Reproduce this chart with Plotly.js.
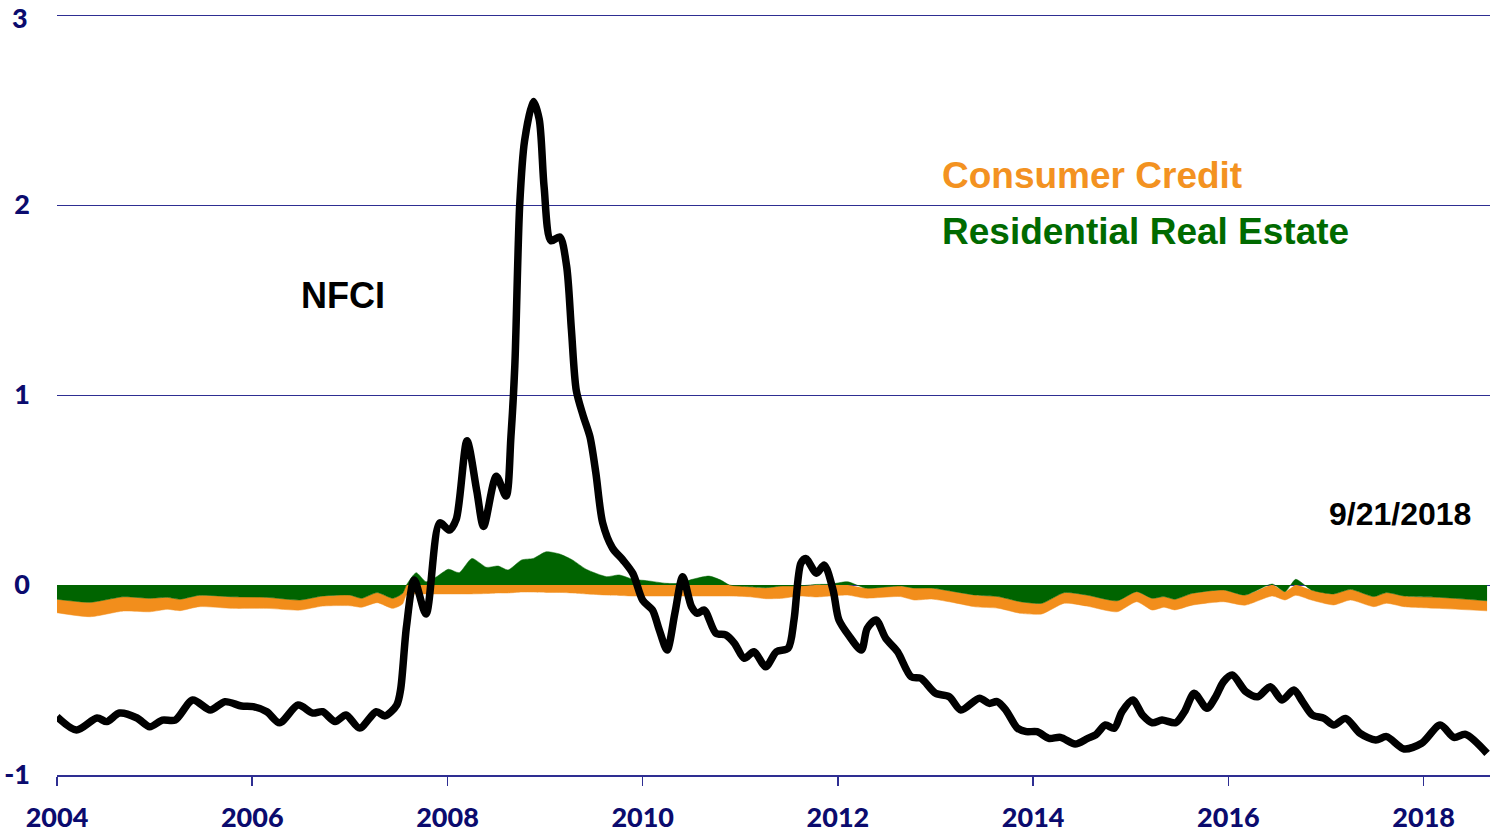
<!DOCTYPE html>
<html><head><meta charset="utf-8">
<script src="https://cdn.plot.ly/plotly-3.0.1.min.js"></script>
<style>html,body{margin:0;padding:0;background:#fff}#chart{width:1493px;height:832px}</style>
</head><body><div id="chart"></div>
<script>
// NFCI weekly index (decimal years)
const nfciDates = [2004.00,2004.20,2004.41,2004.51,2004.64,2004.82,2004.95,2005.08,2005.21,2005.39,2005.57,2005.72,2005.89,2006.01,2006.15,2006.28,2006.47,2006.62,2006.72,2006.85,2006.96,2007.10,2007.27,2007.36,2007.48,2007.52,2007.58,2007.66,2007.78,2007.92,2008.02,2008.09,2008.20,2008.30,2008.37,2008.50,2008.60,2008.65,2008.69,2008.74,2008.79,2008.88,2008.94,2008.99,2009.06,2009.15,2009.22,2009.27,2009.32,2009.39,2009.46,2009.52,2009.59,2009.69,2009.80,2009.90,2010.00,2010.10,2010.17,2010.25,2010.33,2010.41,2010.50,2010.56,2010.63,2010.75,2010.85,2010.94,2011.04,2011.14,2011.26,2011.37,2011.49,2011.55,2011.62,2011.67,2011.78,2011.86,2011.95,2012.01,2012.12,2012.24,2012.30,2012.39,2012.49,2012.61,2012.75,2012.85,2013.00,2013.14,2013.26,2013.45,2013.55,2013.63,2013.72,2013.84,2013.93,2014.04,2014.16,2014.28,2014.43,2014.56,2014.64,2014.74,2014.83,2014.91,2015.02,2015.12,2015.22,2015.32,2015.46,2015.55,2015.65,2015.78,2015.87,2015.95,2016.04,2016.18,2016.30,2016.43,2016.55,2016.67,2016.76,2016.86,2016.98,2017.08,2017.20,2017.35,2017.51,2017.62,2017.80,2017.98,2018.17,2018.31,2018.43,2018.65];
const nfciValues = [-0.693,-0.763,-0.700,-0.719,-0.674,-0.700,-0.746,-0.711,-0.711,-0.605,-0.658,-0.614,-0.637,-0.640,-0.667,-0.725,-0.632,-0.674,-0.667,-0.719,-0.684,-0.753,-0.667,-0.689,-0.632,-0.55,-0.22,0.026,-0.153,0.327,0.289,0.346,0.759,0.496,0.308,0.572,0.468,0.779,1.154,2.0,2.338,2.545,2.451,2.095,1.812,1.832,1.681,1.342,1.023,0.891,0.779,0.59,0.327,0.195,0.13,0.06,-0.08,-0.132,-0.237,-0.342,-0.147,0.044,-0.114,-0.149,-0.132,-0.254,-0.263,-0.307,-0.386,-0.351,-0.43,-0.351,-0.333,-0.184,0.114,0.14,0.062,0.105,-0.026,-0.184,-0.272,-0.342,-0.228,-0.184,-0.281,-0.351,-0.483,-0.491,-0.57,-0.588,-0.658,-0.596,-0.623,-0.614,-0.658,-0.754,-0.772,-0.772,-0.807,-0.802,-0.837,-0.807,-0.789,-0.737,-0.754,-0.667,-0.605,-0.684,-0.725,-0.711,-0.725,-0.667,-0.57,-0.649,-0.588,-0.509,-0.474,-0.562,-0.588,-0.535,-0.605,-0.553,-0.614,-0.684,-0.702,-0.737,-0.702,-0.781,-0.816,-0.798,-0.863,-0.833,-0.737,-0.802,-0.786,-0.886];

// Contributions (decimal years)
const bandDates = [2004.00,2004.34,2004.68,2004.95,2005.13,2005.26,2005.46,2005.80,2006.15,2006.49,2006.72,2007.00,2007.12,2007.28,2007.44,2007.54,2007.58,2007.68,2007.78,2007.89,2008.01,2008.12,2008.25,2008.40,2008.52,2008.62,2008.76,2008.88,2009.01,2009.15,2009.28,2009.42,2009.63,2009.76,2009.90,2010.04,2010.24,2010.38,2010.51,2010.68,2010.80,2010.89,2011.09,2011.26,2011.43,2011.60,2011.78,2011.92,2012.10,2012.28,2012.64,2012.78,2012.96,2013.19,2013.41,2013.64,2013.87,2014.09,2014.32,2014.55,2014.86,2015.06,2015.22,2015.34,2015.45,2015.63,2015.95,2016.17,2016.45,2016.58,2016.69,2016.85,2017.08,2017.25,2017.49,2017.62,2017.80,2018.16,2018.65];
const residentialRE = [-0.075,-0.091,-0.062,-0.070,-0.065,-0.075,-0.054,-0.062,-0.065,-0.079,-0.058,-0.053,-0.070,-0.040,-0.070,-0.044,0.0,0.065,0.017,0.044,0.083,0.065,0.140,0.093,0.100,0.079,0.132,0.140,0.175,0.163,0.132,0.083,0.044,0.053,0.030,0.023,0.009,0.009,0.030,0.047,0.026,0.0,-0.009,-0.014,-0.005,-0.005,0.003,0.004,0.017,-0.016,-0.005,-0.016,-0.016,-0.035,-0.053,-0.061,-0.088,-0.096,-0.040,-0.053,-0.083,-0.035,-0.070,-0.061,-0.075,-0.044,-0.026,-0.053,0.005,-0.035,0.030,-0.026,-0.047,-0.023,-0.061,-0.040,-0.058,-0.065,-0.083];
const consumerCredit = [-0.071,-0.076,-0.075,-0.071,-0.063,-0.060,-0.060,-0.061,-0.058,-0.053,-0.053,-0.056,-0.047,-0.053,-0.053,-0.056,-0.053,-0.047,-0.047,-0.047,-0.047,-0.047,-0.047,-0.045,-0.042,-0.042,-0.037,-0.037,-0.039,-0.039,-0.042,-0.047,-0.053,-0.055,-0.058,-0.058,-0.058,-0.058,-0.058,-0.058,-0.058,-0.058,-0.053,-0.058,-0.065,-0.053,-0.063,-0.058,-0.053,-0.053,-0.056,-0.063,-0.058,-0.058,-0.062,-0.061,-0.061,-0.056,-0.056,-0.058,-0.058,-0.053,-0.062,-0.056,-0.056,-0.062,-0.062,-0.053,-0.058,-0.044,-0.054,-0.053,-0.058,-0.056,-0.053,-0.056,-0.056,-0.058,-0.053];

const xTickVals = [2004,2006,2008,2010,2012,2014,2016,2018];
const xTickText = ['2004','2006','2008','2010','2012','2014','2016','2018'];
const yTickVals = [-1,0,1,2,3];
const yTickText = ['-1','0','1','2','3'];
// the top label sits at the page edge, so it is drawn as an annotation that stays inside the page
const yTickTextShown = yTickText.map((t, i) => i === yTickText.length - 1 ? '' : t);

const NAVY = '#0B0B6E';
const GRID = '#2E2E92';
const ORANGE = '#F28E1C';
const GREEN = '#006400';

// consumer credit stacked below the negative part of residential real estate
const ccBase = residentialRE.map(v => Math.min(v, 0));
const ccLower = ccBase.map((b, i) => b + consumerCredit[i]);

const traces = [
  {x: bandDates, y: ccBase, mode: 'lines', line: {width: 0, color: 'rgba(0,0,0,0)', shape: 'spline', smoothing: 0.6}, hoverinfo: 'skip', showlegend: false},
  {x: bandDates, y: ccLower, mode: 'lines', fill: 'tonexty', fillcolor: ORANGE, line: {width: 0.5, color: ORANGE, shape: 'spline', smoothing: 0.6}, hoverinfo: 'skip', showlegend: false},
  {x: bandDates, y: residentialRE, mode: 'lines', fill: 'tozeroy', fillcolor: GREEN, line: {width: 0.5, color: GREEN, shape: 'spline', smoothing: 0.6}, hoverinfo: 'skip', showlegend: false},
  {x: nfciDates, y: nfciValues, mode: 'lines', line: {width: 7.5, color: '#000000', shape: 'spline', smoothing: 0.8}, hoverinfo: 'skip', showlegend: false}
];

const tickFont = {family: 'Lato, "Open Sans", sans-serif', size: 27, color: NAVY, weight: 900};
const annFont = (sz, col) => ({family: '"Liberation Sans", Arial, sans-serif', size: sz, color: col, weight: 'bold'});

const layout = {
  width: 1493, height: 832,
  margin: {l: 57, r: 3, t: 11, b: 57},
  paper_bgcolor: '#ffffff', plot_bgcolor: '#ffffff',
  showlegend: false,
  xaxis: {
    range: [2004, 2018.68], tickvals: xTickVals, ticktext: xTickText,
    ticks: 'outside', ticklen: 9, tickwidth: 1.5, tickcolor: GRID,
    showline: true, linecolor: GRID, linewidth: 1.5,
    showgrid: false, zeroline: false, tickfont: tickFont, ticklabelstandoff: 9, automargin: false,
    ticklabeloverflow: 'allow'
  },
  yaxis: {
    range: [-1, 3.0211], tickvals: yTickVals, ticktext: yTickTextShown,
    showgrid: true, gridcolor: GRID, gridwidth: 1, zeroline: false, showline: false,
    ticks: '', tickfont: tickFont, ticklabelstandoff: 26, automargin: false,
    ticklabeloverflow: 'allow'
  },
  annotations: [
    {x: -0.0195, y: 1 + 11 / 764, xref: 'paper', yref: 'paper', xanchor: 'right', yanchor: 'top', text: yTickText[yTickText.length - 1], showarrow: false, font: tickFont, borderpad: 0},
    {x: 2013.05, y: 2.153, xref: 'x', yref: 'y', xanchor: 'left', yanchor: 'middle', text: 'Consumer Credit', showarrow: false, font: annFont(37, '#F39221')},
    {x: 2013.05, y: 1.863, xref: 'x', yref: 'y', xanchor: 'left', yanchor: 'middle', text: 'Residential Real Estate', showarrow: false, font: annFont(37, '#006A00')},
    {x: 2006.48, y: 1.526, xref: 'x', yref: 'y', xanchor: 'left', yanchor: 'middle', text: 'NFCI', showarrow: false, font: annFont(36, '#000000')},
    {x: 2018.51, y: 0.374, xref: 'x', yref: 'y', xanchor: 'right', yanchor: 'middle', text: '9/21/2018', showarrow: false, font: annFont(32, '#000000')}
  ]
};

Plotly.newPlot('chart', traces, layout, {staticPlot: true, displayModeBar: false});
</script>
</body></html>
